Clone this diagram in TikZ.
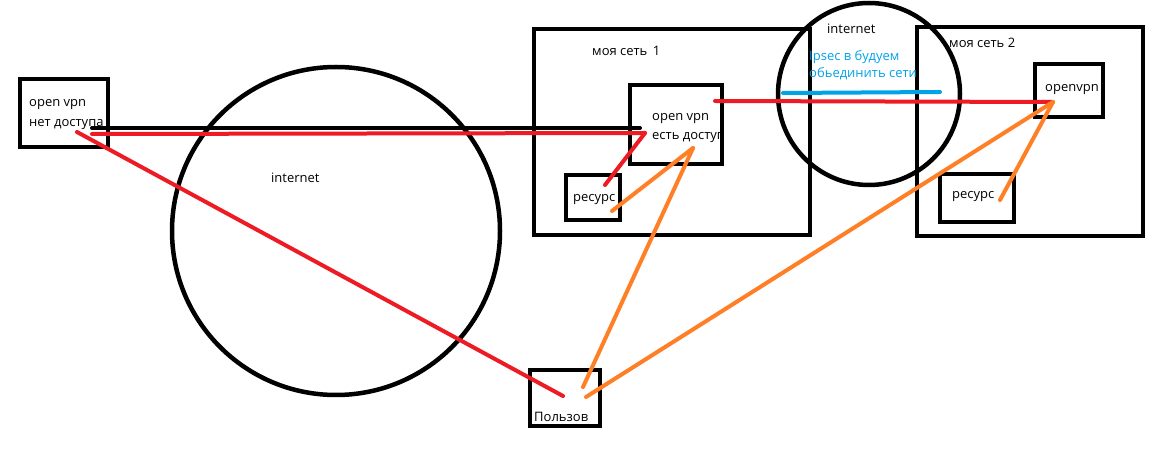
\documentclass[tikz,border=0pt]{standalone}
\usepackage{fontspec}
\setmainfont{Open Sans}
\begin{document}
\begin{tikzpicture}[%
    x=1pt, y=-1pt,              % pixel grid of the sketch, y going down
    line cap=round,
    ]
% -------------------------------------------------
% A few box and line styles
\tikzset{
  base/.style={draw, line width=4.5pt, line cap=butt, inner sep=0pt},
  box/.style={base, rectangle, fill=none},
  cloud/.style={base, circle},
  lbl/.style={anchor=base west, inner sep=0pt, font=\fontsize{13}{15}\selectfont},
  ipsec/.style={lbl, text=blueline},
  % Connector line styles
  wire/.style={line width=4pt, black},
  red/.style={line width=4pt, redline},
  orng/.style={line width=4pt, orangeline},
  blu/.style={line width=4pt, blueline},
}
\definecolor{redline}{RGB}{237,28,36}
\definecolor{orangeline}{RGB}{255,127,39}
\definecolor{blueline}{RGB}{0,162,232}
\useasboundingbox (0,0) rectangle (1152,454);
% -------------------------------------------------
% The two internet clouds
\node [cloud, minimum size=328pt] (net) at (336,231) {};
\node [cloud, minimum size=182pt] (inet) at (869,94) {};
% Boxes
\node [box, minimum width=88pt, minimum height=68pt] (ovpn0) at (64,113) {};
\node [box, minimum width=276pt, minimum height=206pt] (lan1) at (672,132) {};
\node [box, minimum width=92pt, minimum height=79pt] (ovpn1) at (676,124.5) {};
\node [box, minimum width=54pt, minimum height=45pt] (res1) at (593,197.5) {};
\node [box, minimum width=226pt, minimum height=209pt] (lan2) at (1030,131.5) {};
\node [box, minimum width=68pt, minimum height=53pt] (ovpn2) at (1069,90.5) {};
\node [box, minimum width=74pt, minimum height=48pt] (res2) at (977,198) {};
\node [box, minimum width=70pt, minimum height=56pt] (user) at (565,398) {};
% Texts
\node [lbl] (t0a) at (29,107) {open vpn};
\node [lbl] (t0b) at (29,127) {нет доступа};
\node [lbl] (tnet) at (271,183) {internet};
\node [lbl] (tlan1) at (592,56) {моя сеть\, 1};
\node [lbl] (t1a) at (652,121) {open vpn};
\node [lbl] (t1b) at (652,140) {есть доступ};
\node [lbl] (tres1) at (573,202) {ресурс};
\node [lbl] (tinet) at (827,34) {internet};
\node [ipsec] (tip1) at (809,61) {Ipsec в будуем};
\node [ipsec] (tip2) at (809,78) {обьединить сети};
\node [lbl] (tlan2) at (949,48) {моя сеть 2};
\node [lbl] (t2) at (1045,92) {openvpn};
\node [lbl] (tres2) at (952,199) {ресурс};
\node [lbl] (tuser) at (534,421) {Пользов};
% Line ends inside the boxes
\coordinate (a0) at (77,132);
\coordinate (a1) at (92,128);
\coordinate (a2) at (92,134);
\coordinate (b1) at (640,128);
\coordinate (b2) at (645,133);
\coordinate (b3) at (693,148);
\coordinate (b4) at (715,101);
\coordinate (r1a) at (605,185);
\coordinate (r1b) at (612,211);
\coordinate (c1) at (1053,102);
\coordinate (r2) at (1000,200);
\coordinate (u1) at (563,396);
\coordinate (u2) at (583,387);
\coordinate (u3) at (586,397);
\coordinate (ip1) at (783,93);
\coordinate (ip2) at (940,92);

\draw [wire] (a1) -- (b1);	%open vpn,open vpn,black
\draw [red] (a2) -- (b2);	%open vpn,open vpn,red
\draw [red] (a0) -- (u1);	%open vpn,user
\draw [red] (r1a) -- (b2);	%resurs,open vpn
\draw [orng] (r1b) -- (b3);	%resurs,open vpn
\draw [orng] (u2) -- (b3);	%user,open vpn
\draw [blu] (ip1) -- (ip2);	%ipsec
\draw [red] (b4) -- (c1);	%open vpn,openvpn
\draw [orng] (u3) -- (c1);	%user,openvpn
\draw [orng] (r2) -- (c1);	%resurs,openvpn

% -------------------------------------------------
\end{tikzpicture}
\end{document}
